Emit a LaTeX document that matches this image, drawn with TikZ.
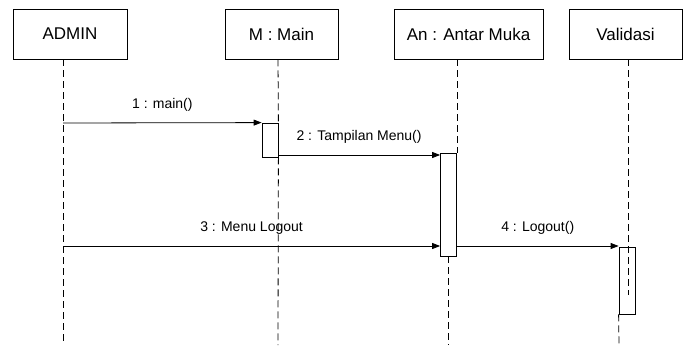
\documentclass[tikz,border=0pt]{standalone}
\usepackage{fontspec}
\setmainfont{Liberation Sans}
\usetikzlibrary{arrows.meta}
\begin{document}
\begin{tikzpicture}[x=1pt, y=-1pt, line width=0.8pt, obj_style/.style={draw=black, minimum height=50pt, inner sep=0pt, font=\fontsize{17}{20}\selectfont}, act_style/.style={draw=black, inner sep=0pt, minimum width=16pt}, life_style/.style={draw=black, dash pattern=on 7pt off 4pt}, msg_style/.style={draw=black, -{Triangle[length=8pt,width=6pt]}, font=\fontsize{14}{16}\selectfont}, label_style/.style={above=8pt, midway}]
      \useasboundingbox (0,0) rectangle (684,352);
      \draw
        (70,34) node[obj_style, minimum width=114pt] (admin){ADMIN}
        (281.5,34) node[obj_style, minimum width=113pt] (main){M : Main}
        (468.5,34) node[obj_style, minimum width=149pt] (antar){An : Antar Muka}
        (625.5,34) node[obj_style, minimum width=113pt] (valid){Validasi}
        (270,140) node[act_style, minimum height=34pt] (act1){}
        (448.5,204.5) node[act_style, minimum height=103pt] (act2){}
        (627,280.5) node[act_style, minimum height=67pt] (act3){};
      \coordinate (admin_end) at (63,345);
      \coordinate (main_end) at (278,345);
      \coordinate (antar_end) at (448.5,345);
      \coordinate (valid_mid) at (628,295);
      \coordinate (valid_end) at (619,345);
      \coordinate (m1) at (63,123);
      \coordinate (m2) at (278,155);
      \coordinate (m3) at (63,246);
      % lifelines
      \draw[life_style] (admin.south -| admin_end) -- (admin_end);
      \draw[life_style] (main.south -| main_end) -- (act1.north east);
      \draw[life_style] (act1.south east) -- (main_end);
      \draw[life_style] (antar.south -| act2.east) -- (act2.north east);
      \draw[life_style] (act2.south) -- (antar_end);
      \draw[life_style] (valid.south -| valid_mid) -- (valid_mid);
      \draw[life_style] (act3.south west) -- (valid_end);
      % messages
      \begin{scope}[-]
        \draw[msg_style] (m1) to node[label_style] {1 : main()} (act1.north west);
        \draw[msg_style] (m2) to node[label_style] {2 : Tampilan Menu()} (act2.west |- m2);
        \draw[msg_style] (m3) to node[label_style] {3 : Menu Logout} (act2.west |- m3);
        \draw[msg_style] (act2.east |- m3) to node[label_style] {4 : Logout()} (act3.west |- m3);
      \end{scope}
    \end{tikzpicture}
\end{document}
